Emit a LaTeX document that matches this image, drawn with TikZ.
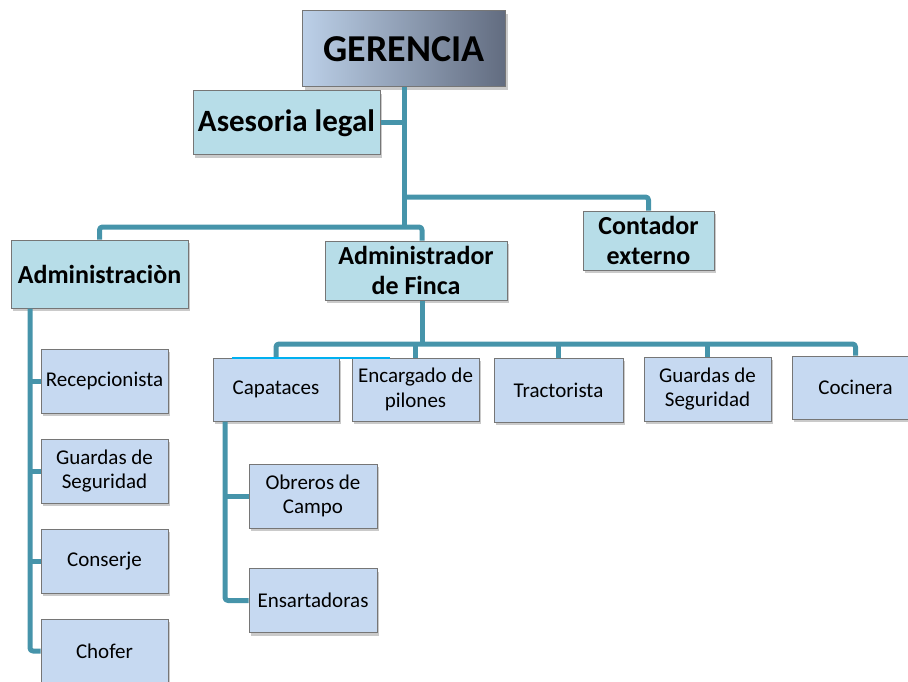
\documentclass[tikz,border=0pt]{standalone}
\usepackage{fontspec}
\setmainfont{Carlito}
\usetikzlibrary{shadows}
\definecolor{gerL}{RGB}{188,208,232}
\definecolor{gerR}{RGB}{98,108,128}
\definecolor{cyanbox}{RGB}{183,221,232}
\definecolor{bluebox}{RGB}{198,217,241}
\definecolor{bordc}{RGB}{118,118,118}
\definecolor{connc}{RGB}{70,148,170}
\definecolor{thincyan}{RGB}{0,176,240}
\begin{document}
\begin{tikzpicture}[x=1pt,y=-1pt,
  basebox/.style={draw=bordc,line width=1pt,inner sep=1pt,align=center,
    drop shadow={shadow xshift=2pt,shadow yshift=-3pt,opacity=0.35,fill=black!60}},
  gerbox/.style={basebox,left color=gerL,right color=gerR,minimum width=203pt,minimum height=76pt,
    font=\bfseries\fontsize{38}{44}\selectfont},
  bigbox/.style={basebox,fill=cyanbox,font=\bfseries\fontsize{26}{30}\selectfont},
  smallbox/.style={basebox,fill=bluebox,minimum width=127pt,minimum height=64pt,
    font=\fontsize{21}{24.5}\selectfont},
  conn/.style={draw=connc,line width=5pt,rounded corners=3pt,line join=round}]
\useasboundingbox (0,0) rectangle (908,682);

% nodes
\node[gerbox] (ger) at (404,49) {GERENCIA};
\node[bigbox,minimum width=187pt,minimum height=64pt,font=\bfseries\fontsize{31}{36}\selectfont] (ase) at (286.5,123) {Asesoria legal};
\node[bigbox,minimum width=131pt,minimum height=59pt] (cont) at (648.5,240.5) {Contador\\externo};
\node[bigbox,minimum width=177pt,minimum height=68pt] (adm) at (99.5,274) {Administraciòn};
\node[bigbox,minimum width=182pt,minimum height=59pt] (admf) at (416,270.5) {Administrador\\de Finca};

\node[smallbox] (recep) at (104.5,381) {Recepcionista};
\node[smallbox] (guarA) at (104.5,471) {Guardas de\\Seguridad};
\node[smallbox] (consj) at (104.5,561) {Conserje};
\node[smallbox] (chof) at (104.5,651) {Chofer};

\node[smallbox,minimum width=126pt,minimum height=63pt] (capa) at (276,389.5) {Capataces};
\node[smallbox,minimum height=63pt] (enc) at (415.5,389.5) {Encargado de\\pilones};
\node[smallbox,minimum width=129pt] (trac) at (558.5,390) {Tractorista};
\node[smallbox] (guarB) at (707.5,389) {Guardas de\\Seguridad};
\node[smallbox,minimum height=63pt] (coci) at (855.5,387.5) {Cocinera};

\node[smallbox,minimum width=128pt] (obre) at (313,496) {Obreros de\\Campo};
\node[smallbox,minimum width=128pt] (ensa) at (313,600.5) {Ensartadoras};

% helper coordinates
\coordinate (jA) at (404,227);
\coordinate (jC) at (404,197);
\coordinate (jR) at (422,344);
\coordinate (colA) at (30,0);
\coordinate (colC) at (225,0);

% connectors
\draw[conn] (ger.south) -- (jA);
\draw[conn] (ase.east) -- (ase.east -| jA);
\draw[conn] (jC) -| (cont.north);
\draw[conn] (adm.north) |- (jA) -| (admf.north -| jR);
\draw[conn] (admf.south -| jR) -- (jR);
\draw[conn] (capa.north) |- (jR) -| (coci.north);
\draw[conn] (enc.north) -- (enc.north |- jR);
\draw[conn] (trac.north) -- (trac.north |- jR);
\draw[conn] (guarB.north) -- (guarB.north |- jR);

\draw[conn] (adm.south -| colA) |- (chof.west);
\draw[conn] (recep.west) -- (recep.west -| colA);
\draw[conn] (guarA.west) -- (guarA.west -| colA);
\draw[conn] (consj.west) -- (consj.west -| colA);

\draw[conn] (capa.south -| colC) |- (ensa.west);
\draw[conn] (obre.west) -- (obre.west -| colC);

\coordinate (tcL) at (232,358);
\coordinate (tcR) at (390,358);
\draw[thincyan,line width=1.5pt] (tcL) -- (tcR);
\end{tikzpicture}
\end{document}
